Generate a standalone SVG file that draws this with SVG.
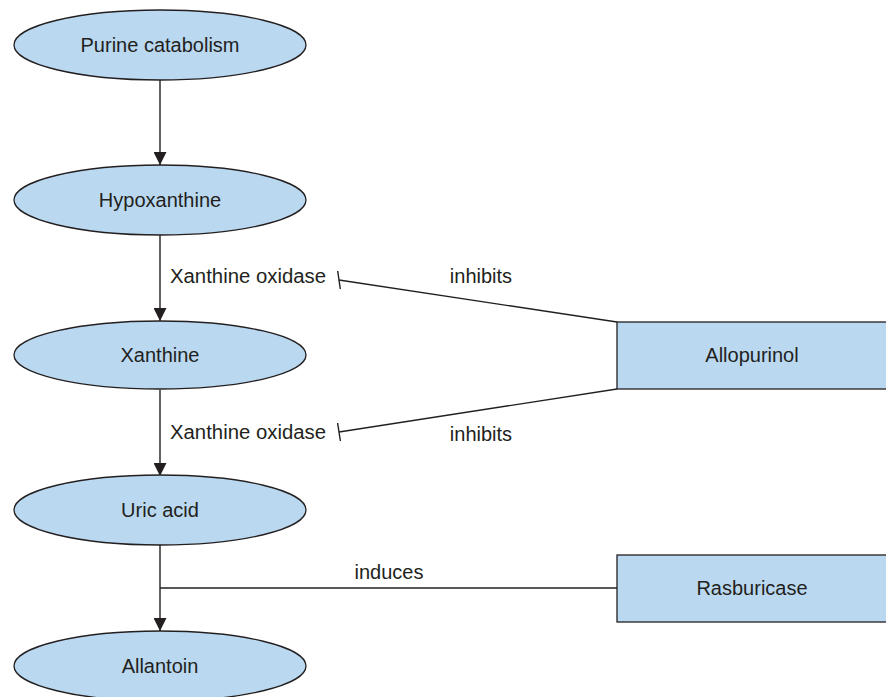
<svg xmlns="http://www.w3.org/2000/svg" width="886" height="697" viewBox="0 0 886 697">
<defs>
<style>
.node{fill:#bad9f1;stroke:#231f20;stroke-width:1.3}
.lbl{font-family:"Liberation Sans",Arial,sans-serif;font-size:20px;fill:#231f20;text-anchor:middle;dominant-baseline:central}
.el{font-family:"Liberation Sans",Arial,sans-serif;font-size:20px;fill:#231f20}
.edge{stroke:#231f20;stroke-width:1.4;fill:none}
</style>
<marker id="arr" viewBox="0 0 12 12" refX="12" refY="6" markerWidth="13" markerHeight="13" markerUnits="userSpaceOnUse" orient="auto">
<path d="M0,0 L12,6 L0,12 z" fill="#231f20"/>
</marker>
</defs>
<rect width="886" height="697" fill="#fff"/>
<g id="connectors">
<line class="edge" x1="160" y1="80" x2="160" y2="165" marker-end="url(#arr)"/>
<line class="edge" x1="160" y1="235" x2="160" y2="321" marker-end="url(#arr)"/>
<line class="edge" x1="160" y1="390" x2="160" y2="476" marker-end="url(#arr)"/>
<line class="edge" x1="160" y1="545" x2="160" y2="631" marker-end="url(#arr)"/>
<line class="edge" x1="617" y1="322" x2="339" y2="280"/>
<line class="edge" x1="337.7" y1="271" x2="340.3" y2="289"/>
<line class="edge" x1="617" y1="389" x2="339" y2="432"/>
<line class="edge" x1="337.6" y1="423" x2="340.4" y2="441"/>
<line class="edge" x1="160" y1="588" x2="617" y2="588"/>
<text class="el" x="170" y="283" textLength="156" lengthAdjust="spacingAndGlyphs">Xanthine oxidase</text>
<text class="el" x="170" y="439" textLength="156" lengthAdjust="spacingAndGlyphs">Xanthine oxidase</text>
<text class="lbl" x="481" y="276">inhibits</text>
<text class="lbl" x="481" y="434">inhibits</text>
<text class="lbl" x="389" y="572">induces</text>
</g>
<g id="purine">
<ellipse class="node" cx="160" cy="45" rx="146" ry="35"/>
<text class="lbl" x="160" y="45">Purine catabolism</text>
</g>
<g id="hypoxanthine">
<ellipse class="node" cx="160" cy="200" rx="146" ry="35"/>
<text class="lbl" x="160" y="200">Hypoxanthine</text>
</g>
<g id="xanthine">
<ellipse class="node" cx="160" cy="355" rx="146" ry="34"/>
<text class="lbl" x="160" y="355">Xanthine</text>
</g>
<g id="uricacid">
<ellipse class="node" cx="160" cy="510" rx="146" ry="35"/>
<text class="lbl" x="160" y="510">Uric acid</text>
</g>
<g id="allantoin">
<ellipse class="node" cx="160" cy="666" rx="146" ry="35"/>
<text class="lbl" x="160" y="666">Allantoin</text>
</g>
<g id="allopurinol">
<rect class="node" x="617" y="322" width="280" height="67"/>
<text class="lbl" x="752" y="355">Allopurinol</text>
</g>
<g id="rasburicase">
<rect class="node" x="617" y="555" width="280" height="67"/>
<text class="lbl" x="752" y="588">Rasburicase</text>
</g>
</svg>
